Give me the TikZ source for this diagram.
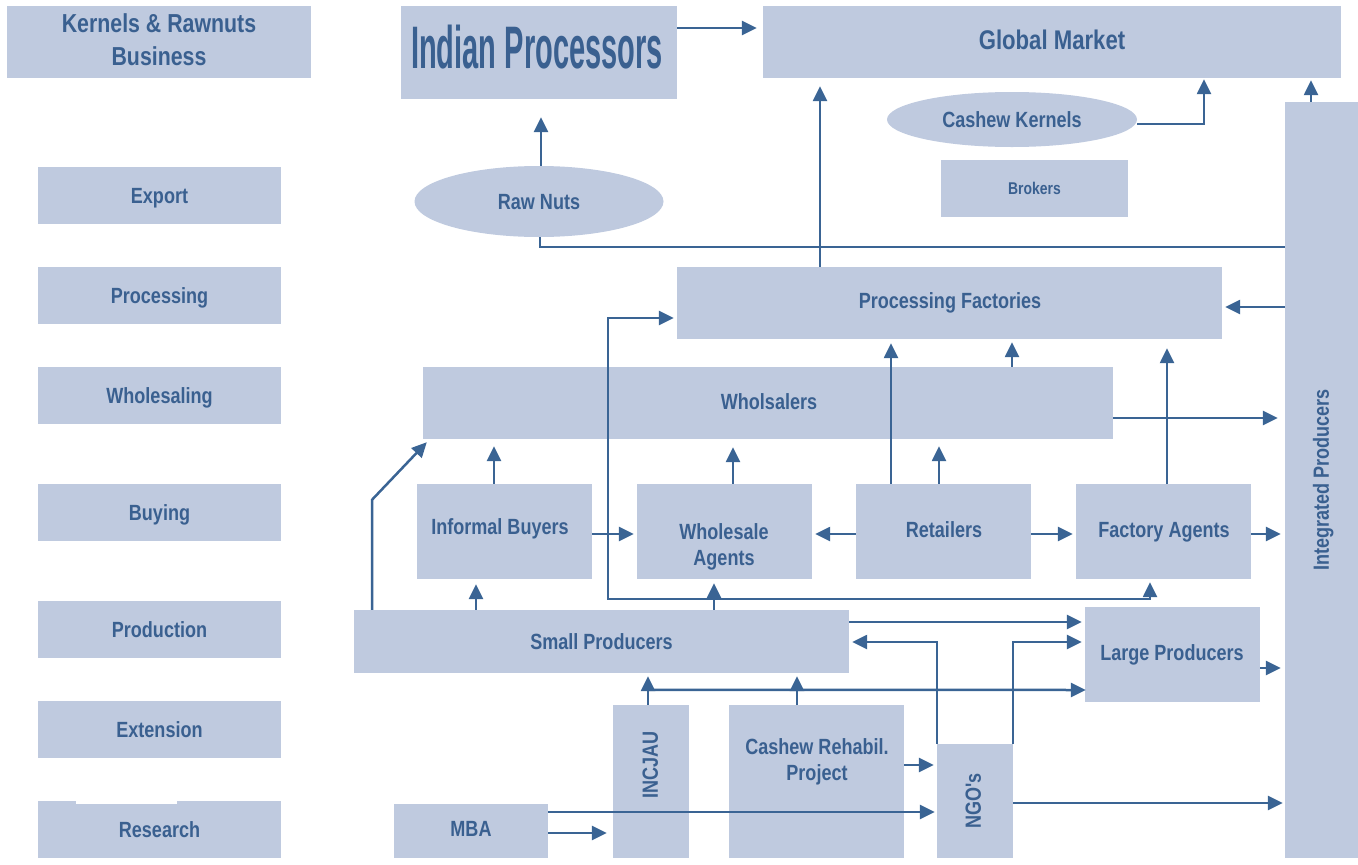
\documentclass[tikz,border=0pt]{standalone}
\usepackage{fontspec}
\usepackage{graphicx}
\newfontfamily\lbl{Liberation Sans}[FakeStretch=0.82]
\usetikzlibrary{arrows.meta,shapes.geometric,calc}
\definecolor{boxc}{RGB}{191,202,223}
\definecolor{txtc}{RGB}{58,96,144}
\definecolor{arrc}{RGB}{58,100,148}
\tikzset{
  box/.style={fill=boxc, draw=none, inner sep=0pt, align=center, text=txtc,
    font=\lbl\bfseries\fontsize{22}{26}\selectfont},
  one/.style={text height=17pt, text depth=1.2pt},
  oval/.style={box, one, ellipse},
  lbltext/.style={inner sep=0pt, align=center, text=txtc,
    font=\lbl\bfseries\fontsize{22}{26}\selectfont},
  arr/.style={draw=arrc, line width=2.5pt, -{Triangle[length=15pt,width=14pt]}},
  arrboth/.style={draw=arrc, line width=2.5pt, {Triangle[length=15pt,width=14pt]}-{Triangle[length=15pt,width=14pt]}},
  ln/.style={draw=arrc, line width=2.5pt}
}
\begin{document}
\begin{tikzpicture}[x=1pt,y=-1pt]
\useasboundingbox (0,0) rectangle (1358,865);
% header boxes
\node[box, minimum width=304pt, minimum height=72pt, font=\lbl\bfseries\fontsize{26}{33}\selectfont] (kr) at (159,42) {};
\node[lbltext, font=\lbl\bfseries\fontsize{26}{33}\selectfont] (krtext) at (159,40) {Kernels \& Rawnuts\\Business};
\node[box, minimum width=276pt, minimum height=93pt] (ip) at (539,52.5) {};
\node[lbltext, font=\lbl\bfseries\fontsize{60}{60}\selectfont] (iptext) at (537,47) {\scalebox{0.59}[1]{Indian Processors}};
\node[box, minimum width=578pt, minimum height=72pt] (gm) at (1052,42) {};
\node[lbltext, text height=20.5pt, text depth=1.2pt, font=\lbl\bfseries\fontsize{27}{30}\selectfont] (gmtext) at (1052,40) {Global Market};
% left column
\node[box, one, minimum width=243pt, minimum height=57pt] (ex) at (159.5,195.5) {Export};
\node[box, one, minimum width=243pt, minimum height=57pt] (pr) at (159.5,295.5) {Processing};
\node[box, one, minimum width=243pt, minimum height=57pt] (wl) at (159.5,395.5) {Wholesaling};
\node[box, one, minimum width=243pt, minimum height=57pt] (bu) at (159.5,512.5) {Buying};
\node[box, one, minimum width=243pt, minimum height=57pt] (pd) at (159.5,629.5) {Production};
\node[box, one, minimum width=243pt, minimum height=57pt] (et) at (159.5,729.5) {Extension};
\node[box, one, minimum width=243pt, minimum height=57pt] (rs) at (159.5,829.5) {Research};
\fill[white] (76,800.5) rectangle (177,803.5);
% ellipses and brokers
\node[oval, minimum width=249pt, minimum height=71pt] (rn) at (539,201.5) {Raw Nuts};
\node[oval, minimum width=250pt, minimum height=55pt] (ck) at (1012,119.5) {Cashew Kernels};
\node[box, text height=13.4pt, text depth=1.2pt, minimum width=187pt, minimum height=57pt, font=\lbl\bfseries\fontsize{17}{20}\selectfont] (br) at (1034.5,188.5) {Brokers};
% integrated producers
\node[box, minimum width=73pt, minimum height=756pt] (intp) at (1321.5,480) {};
\node[lbltext, one, rotate=90] (intptext) at (1321,480) {Integrated Producers};
% main chain
\node[box, minimum width=545pt, minimum height=72pt] (pf) at (949.5,303) {};
\node[lbltext, one] (pftext) at (950,301) {Processing Factories};
\node[box, minimum width=690pt, minimum height=72pt] (ws) at (768,403) {};
\node[lbltext, one] (wstext) at (769,402) {Wholsalers};
\node[box, minimum width=175pt, minimum height=95pt] (ib) at (504.5,531.5) {};
\node[lbltext, one] (ibtext) at (500,527) {Informal Buyers};
\node[box, minimum width=175pt, minimum height=95pt] (wa) at (724.5,531.5) {};
\node[lbltext] (watext) at (724,546.5) {Wholesale\\Agents};
\node[box, minimum width=175pt, minimum height=95pt] (rt) at (943.5,531.5) {};
\node[lbltext, one] (rttext) at (944,530) {Retailers};
\node[box, minimum width=175pt, minimum height=95pt] (fa) at (1163.5,531.5) {};
\node[lbltext, one] (fatext) at (1164,530) {Factory Agents};
\node[box, one, minimum width=495pt, minimum height=63pt] (sp) at (601.5,641.5) {Small Producers};
\node[box, minimum width=175pt, minimum height=95pt] (lp) at (1172.5,654.5) {};
\node[lbltext, one] (lptext) at (1172,653) {Large Producers};
\node[box, minimum width=76pt, minimum height=153pt] (inc) at (651,781.5) {};
\node[lbltext, one, rotate=90] (inctext) at (650,765) {INCJAU};
\node[box, minimum width=175pt, minimum height=153pt] (crp) at (816.5,781.5) {};
\node[lbltext] (crptext) at (817,762) {Cashew Rehabil.\\Project};
\node[box, minimum width=76pt, minimum height=114pt] (ngo) at (975,801) {};
\node[lbltext, one, rotate=90] (ngotext) at (973,801) {NGO's};
\node[box, minimum width=154pt, minimum height=54pt] (mba) at (471,831) {};
\node[lbltext, one] (mbatext) at (471,829) {MBA};
% connectors
\draw[arr] ([yshift=24.5pt]ip.east) -- ([xshift=-6pt,yshift=14pt]gm.west);
\draw[arr] ([xshift=2pt]rn.north) -- ([xshift=2pt,yshift=-18pt]ip.south);
\draw[ln] ([xshift=1pt]rn.south) |- ([yshift=233pt]intp.west);
\draw[arr] ([xshift=-129.5pt]pf.north) -- ([xshift=-232pt,yshift=-8pt]gm.south);
\draw[arr] ([yshift=-4.5pt]ck.east) -| ([xshift=152pt,yshift=-1pt]gm.south);
\draw[arr] ([xshift=-10.5pt]intp.north) -- ([xshift=259pt,yshift=-2pt]gm.south);
\draw[arr] ([yshift=173pt]intp.west) -- ([xshift=3pt,yshift=-4pt]pf.east);
\draw[arr] ([yshift=-15pt]ws.east) -- ([xshift=-7pt,yshift=62pt]intp.west);
\draw[arr] ([xshift=8.5pt]wa.north) -- ([xshift=-35pt,yshift=-8pt]ws.south);
\draw[arr] ([xshift=-10.5pt]ib.north) -- ([xshift=-274pt,yshift=-7pt]ws.south);
\draw[arr] ([xshift=-52.5pt]rt.north) -- ([xshift=-58.5pt,yshift=-4pt]pf.south);
\draw[arr] ([xshift=-4.5pt]rt.north) -- ([xshift=171pt,yshift=-7pt]ws.south);
\draw[arr] ([xshift=244pt]ws.north) -- ([xshift=62.5pt,yshift=-3pt]pf.south);
\draw[arr] ([xshift=3.5pt]fa.north) -- ([xshift=217.5pt,yshift=-9pt]pf.south);
\draw[arr] ([yshift=-2.5pt]rt.west) -- ([xshift=3pt,yshift=-2.5pt]wa.east);
\draw[arr] ([yshift=-2.5pt]rt.east) -- ([xshift=-3pt,yshift=-2.5pt]fa.west);
\draw[arr] ([yshift=-2.5pt]ib.east) -- ([xshift=-3pt,yshift=-2.5pt]wa.west);
\draw[arr] ([yshift=-2.5pt]fa.east) -- ([xshift=-4pt,yshift=-54pt]intp.west);
\draw[arr] ([xshift=-229.5pt]sp.north) -- ++(0,-110) -- ([xshift=4pt,yshift=-3pt]ws.south west);
\draw[arr] ([xshift=-125.5pt]sp.north) -- ([xshift=-28.5pt,yshift=-5pt]ib.south);
\draw[arr] ([xshift=112.5pt]sp.north) -- ([xshift=-10.5pt,yshift=-4pt]wa.south);
\draw[arrboth] ([xshift=-3pt,yshift=-15pt]pf.west) -- ++(-66,0) |- ([xshift=-13.5pt,yshift=-20pt]fa.south) -- ([xshift=-13.5pt,yshift=-3pt]fa.south);
\draw[arr] ([yshift=19.5pt]sp.east) -- ([xshift=-3pt,yshift=32.5pt]lp.west);
\draw[arr] ([xshift=-38pt]ngo.north) |- ([xshift=3pt,yshift=-0.5pt]sp.east);
\draw[arr] ([xshift=38pt]ngo.north) |- ([xshift=-3pt,yshift=12.5pt]lp.west);
\draw[arr] ([xshift=-3pt]inc.north) -- ([xshift=46.5pt,yshift=-3pt]sp.south);
\draw[arr] ([xshift=-3pt,yshift=15pt]inc.north) -- ([xshift=1pt,yshift=-35.5pt]lp.west);
\draw[arr] ([xshift=-19.5pt]crp.north) -- ([xshift=195.5pt,yshift=-3pt]sp.south);
\draw[arr] ([yshift=16.5pt]crp.east) -- ([xshift=-3pt,yshift=36pt]ngo.west);
\draw[arr] ([yshift=19pt]mba.east) -- ([xshift=-2pt,yshift=-11pt]ngo.west);
\draw[arr] ([yshift=-2pt]mba.east) -- ([xshift=-6pt,yshift=-51.5pt]inc.west);
\draw[arr] ([yshift=-2pt]ngo.east) -- ([xshift=-2pt,yshift=-323pt]intp.west);
\draw[arr] ([yshift=-13.5pt]lp.east) -- ([xshift=-4pt,yshift=-188pt]intp.west);
\end{tikzpicture}
\end{document}
